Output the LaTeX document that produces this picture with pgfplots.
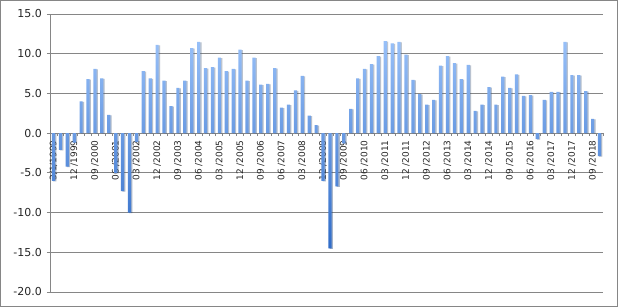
\documentclass[border=0pt]{standalone}
\usepackage{pgfplots}
\pgfplotsset{compat=1.18}
\usepackage{fontspec}
\setmainfont{DejaVu Sans}
\usetikzlibrary{shadows}
\definecolor{barTop}{RGB}{152,192,248}
\definecolor{barBot}{RGB}{48,108,200}
\definecolor{gridc}{RGB}{134,134,134}
\begin{document}
\begin{tikzpicture}
\useasboundingbox (0,0) rectangle (618bp,307bp);
\draw[gridc, line width=1bp] (0.5bp,0.5bp) rectangle (617.5bp,306.5bp);
\begin{axis}[
  at={(50bp,15bp)}, anchor=south west,
  scale only axis, width=553bp, height=278bp,
  xmin=-0.5, xmax=79.5, ymin=-20, ymax=15,
  axis x line*=middle, axis y line*=left,
  axis line style={gridc, line width=0.8bp},
  tick style={gridc, line width=0.8bp},
  tick align=outside,
  major tick length=3bp, minor tick length=3bp,
  ytick={-20,-15,-10,-5,0,5,10,15},
  yticklabels={-20.0,-15.0,-10.0,-5.0,0.0,5.0,10.0,15.0},
  ymajorgrids, grid style={gridc, line width=0.8bp},
  xtick={0,3,...,78},
  xticklabels={3/1/1999, 12 /1999, 09 /2000, 06 /2001, 03 /2002, 12 /2002, 09 /2003, 06 /2004, 03 /2005, 12 /2005, 09 /2006, 06 /2007, 03 /2008, 12 /2008, 09 /2009, 06 /2010, 03 /2011, 12 /2011, 09 /2012, 06 /2013, 03 /2014, 12 /2014, 09 /2015, 06 /2016, 03 /2017, 12 /2017, 09 /2018},
  minor xtick={-0.5,0.5,...,79.5},
  major x tick style={draw=none},
  xticklabel shift=4bp,
  x tick label style={rotate=90, anchor=east, font=\fontsize{9}{9}\selectfont, inner sep=0pt, text=black!85},
  y tick label style={font=\fontsize{11}{11}\selectfont, inner sep=0pt, text=black!85},
  yticklabel shift=5bp,
]
\addplot[ybar, bar width=3.2bp, draw=none, top color=barTop, bottom color=barBot,
  drop shadow={shadow xshift=1.3bp, shadow yshift=-0.5bp, fill=black, opacity=0.22}]
coordinates {
(0,-6.0) (1,-2.1) (2,-4.2) (3,-1.2) (4,4.0) (5,6.8) (6,8.1) (7,6.9) (8,2.3) (9,-5.0)
(10,-7.3) (11,-10.0) (12,-1.1) (13,7.8) (14,6.9) (15,11.1) (16,6.6) (17,3.4) (18,5.7) (19,6.6)
(20,10.7) (21,11.5) (22,8.2) (23,8.3) (24,9.5) (25,7.8) (26,8.1) (27,10.5) (28,6.6) (29,9.5)
(30,6.1) (31,6.2) (32,8.2) (33,3.2) (34,3.6) (35,5.4) (36,7.2) (37,2.2) (38,1.0) (39,-6.0)
(40,-14.5) (41,-6.7) (42,-1.3) (43,3.05) (44,6.9) (45,8.1) (46,8.7) (47,9.7) (48,11.6) (49,11.3)
(50,11.5) (51,9.9) (52,6.7) (53,4.9) (54,3.6) (55,4.2) (56,8.5) (57,9.7) (58,8.8) (59,6.8)
(60,8.6) (61,2.8) (62,3.6) (63,5.8) (64,3.6) (65,7.1) (66,5.7) (67,7.4) (68,4.7) (69,4.8)
(70,-0.75) (71,4.2) (72,5.2) (73,5.2) (74,11.5) (75,7.3) (76,7.3) (77,5.3) (78,1.8) (79,-2.9)
};
\end{axis}
\end{tikzpicture}
\end{document}
